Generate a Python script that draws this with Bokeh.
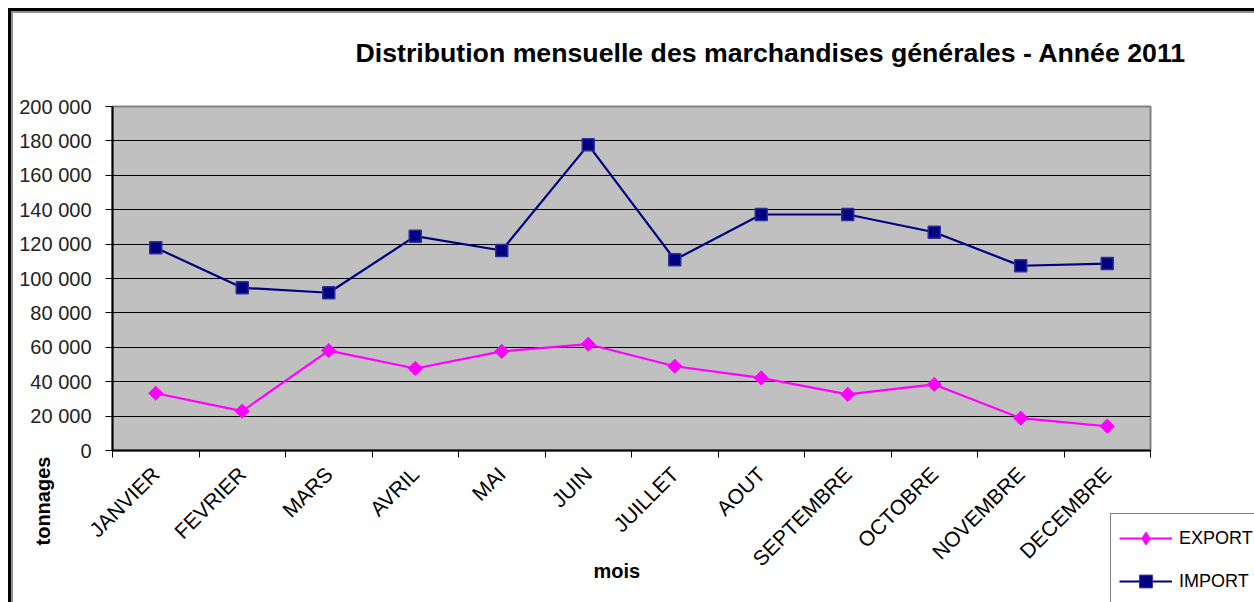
from math import pi
from bokeh.plotting import figure
from bokeh.models import FixedTicker, Legend, LegendItem, Range1d, Title, Div
from bokeh.embed import file_html
from bokeh.resources import INLINE

months = ["JANVIER", "FEVRIER", "MARS", "AVRIL", "MAI", "JUIN", "JUILLET",
          "AOUT", "SEPTEMBRE", "OCTOBRE", "NOVEMBRE", "DECEMBRE"]
export_t = [33300, 22900, 58100, 47700, 57600, 61800, 49000, 42200, 32600, 38400, 18800, 14100]
import_t = [117900, 94600, 91700, 124600, 116300, 177700, 110900, 137200, 137200, 126900, 107400, 108700]
y_ticks = list(range(0, 200001, 20000))
series_names = ["EXPORT", "IMPORT"]

title_text = "Distribution mensuelle des marchandises générales - Année 2011"
x_label = "mois"
y_label = "tonnages"
FONT = "Liberation Sans"
EXP_COLOR = "#FF00FF"
IMP_COLOR = "#000080"

x = [i + 0.5 for i in range(len(months))]

p = figure(width=1254, height=602, x_range=Range1d(0, len(months)), y_range=Range1d(0, 200000),
           output_backend="svg", toolbar_location=None,
           min_border_left=112, min_border_right=104, min_border_top=106, min_border_bottom=152)

p.background_fill_color = "#C0C0C0"
p.border_fill_color = "white"
p.outline_line_color = "#808080"
p.outline_line_width = 2

# x axis: labels at category centres, tick marks at category boundaries
p.xaxis.ticker = FixedTicker(ticks=x, minor_ticks=list(range(len(months) + 1)))
p.xaxis.major_label_overrides = {v: m for v, m in zip(x, months)}
p.xaxis.major_tick_out = 0
p.xaxis.major_tick_in = 0
p.xaxis.minor_tick_out = 7
p.xaxis.minor_tick_in = 0
p.xaxis.minor_tick_line_color = "black"
p.xaxis.major_label_orientation = pi / 4
p.xaxis.major_label_standoff = 13
p.xaxis.major_label_text_font = FONT
p.xaxis.major_label_text_font_size = "21px"
p.xaxis.major_label_text_color = "black"
p.xaxis.axis_line_color = "black"
p.xaxis.axis_line_width = 2
p.xgrid.visible = False

# y axis
p.yaxis.ticker = FixedTicker(ticks=y_ticks, minor_ticks=[])
p.yaxis.major_label_overrides = {v: f"{v:,}".replace(",", " ") for v in y_ticks}
p.yaxis.major_tick_out = 7
p.yaxis.major_tick_in = 0
p.yaxis.major_tick_line_color = "black"
p.yaxis.major_label_standoff = 14
p.yaxis.major_label_text_font = FONT
p.yaxis.major_label_text_font_size = "20px"
p.yaxis.major_label_text_color = "#222222"
p.yaxis.axis_line_color = "black"
p.yaxis.axis_line_width = 2
p.ygrid.ticker = FixedTicker(ticks=y_ticks)
p.ygrid.grid_line_color = "black"
p.ygrid.grid_line_width = 1.2
p.ygrid.grid_line_alpha = 1

# series
p.line(x, export_t, line_color=EXP_COLOR, line_width=2.2)
p.scatter(x, export_t, marker="square", angle=pi / 4, size=10,
          fill_color=EXP_COLOR, line_color=EXP_COLOR)
p.line(x, import_t, line_color=IMP_COLOR, line_width=2.2)
p.scatter(x, import_t, marker="square", size=12,
          fill_color=IMP_COLOR, line_color="#2E2E99", line_width=1.5)

# chart title
p.add_layout(Title(text=title_text, align="left", offset=243, vertical_align="top", standoff=74,
                   text_font=FONT, text_font_style="bold", text_font_size="26.7px",
                   text_color="black"), "above")
# x axis title
p.add_layout(Title(text=x_label, align="left", offset=481, vertical_align="top", standoff=-44,
                   text_font=FONT, text_font_style="bold", text_font_size="20px",
                   text_color="black"), "below")
# y axis title (bottom left)
p.add_layout(Title(text=y_label, align="left", offset=-95, vertical_align="bottom", standoff=-74,
                   text_font=FONT, text_font_style="bold", text_font_size="20px",
                   text_color="black"), "left")

# legend box in the bottom right corner (small overlaid figure, cut by the window edge)
q = figure(width=144, height=89, x_range=Range1d(-10, -9), y_range=Range1d(-10, -9),
           output_backend="svg", toolbar_location=None, min_border=0,
           x_axis_location=None, y_axis_location=None,
           styles={"position": "absolute", "left": "1110px", "top": "513px"})
q.grid.visible = False
q.outline_line_color = None
q.background_fill_color = "white"
q.border_fill_color = "white"
ql1 = q.line(x, export_t, line_color=EXP_COLOR, line_width=2.2)
qs1 = q.scatter(x, export_t, marker="diamond", size=14, fill_color=EXP_COLOR, line_color=EXP_COLOR)
ql2 = q.line(x, import_t, line_color=IMP_COLOR, line_width=2.2)
qs2 = q.scatter(x, import_t, marker="square", size=10, fill_color=IMP_COLOR,
                line_color="#2E2E99", line_width=1)
legend = Legend(items=[LegendItem(label=series_names[0], renderers=[ql1, qs1]),
                       LegendItem(label=series_names[1], renderers=[ql2, qs2])],
                location="top_left", border_line_color="black", border_line_width=1,
                background_fill_color="white", background_fill_alpha=1,
                glyph_width=53, glyph_height=32, label_height=32, spacing=11,
                padding=8, margin=0, label_standoff=7,
                label_text_font=FONT, label_text_font_size="18px", label_text_color="black")
q.add_layout(legend)

# chart-area frame (black top/left edge with a grey inner line)
def bar(left, top, w, h, color):
    return Div(text="", width=w, height=h, margin=0,
               styles={"position": "absolute", "left": f"{left}px", "top": f"{top}px",
                       "background-color": color})

frame_bars = [bar(8, 8, 1246, 3, "black"), bar(8, 8, 3, 594, "black"),
              bar(11, 11, 1243, 2, "#909090"), bar(11, 11, 2, 591, "#909090")]

open("out.html", "w").write(file_html([p, q] + frame_bars, INLINE))
